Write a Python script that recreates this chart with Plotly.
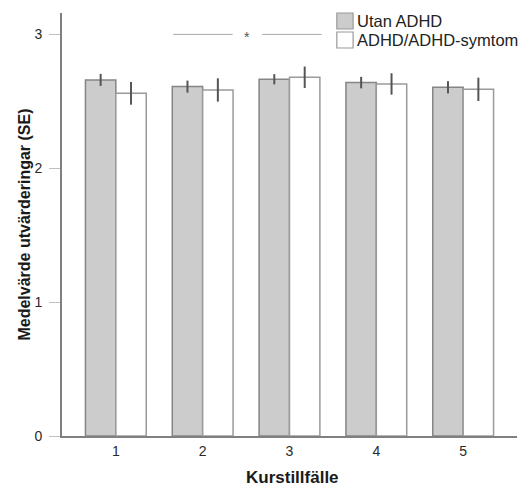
import plotly.graph_objects as go

categories = [1, 2, 3, 4, 5]
tick_labels = ["1", "2", "3", "4", "5"]
series_names = ["Utan ADHD", "ADHD/ADHD-symtom"]
x_title = "Kurstillfälle"
y_title = "Medelvärde utvärderingar (SE)"
utan_mean = [2.66, 2.61, 2.665, 2.64, 2.605]
utan_se = [0.045, 0.045, 0.038, 0.043, 0.046]
adhd_mean = [2.56, 2.585, 2.68, 2.63, 2.59]
adhd_se = [0.085, 0.087, 0.08, 0.08, 0.087]
sig_span = [1.66, 3.37]
sig_level = 3.0

font = "Liberation Sans, Arial, sans-serif"
fill_cols = ["#cccccc", "#ffffff"]
line_cols = ["#858585", "#9a9a9a"]

fig = go.Figure()
for nm, m, se, fc, lc in [(series_names[0], utan_mean, utan_se, fill_cols[0], line_cols[0]),
                          (series_names[1], adhd_mean, adhd_se, fill_cols[1], line_cols[1])]:
    fig.add_trace(go.Bar(
        x=categories, y=m, name=nm, showlegend=False,
        marker=dict(color=fc, line=dict(color=lc, width=1.5)),
        error_y=dict(type="data", array=se, color="#555555", thickness=2, width=0),
    ))

# significance bracket
mid = (sig_span[0] + sig_span[1]) / 2
gap = 0.17
fig.add_shape(type="line", x0=sig_span[0], x1=mid - gap, y0=sig_level, y1=sig_level,
              line=dict(color="#aaaaaa", width=1))
fig.add_shape(type="line", x0=mid + gap, x1=sig_span[1], y0=sig_level, y1=sig_level,
              line=dict(color="#aaaaaa", width=1))
fig.add_annotation(x=mid, y=sig_level, text="*", showarrow=False, yshift=-3,
                   font=dict(family=font, size=14, color="#555555"))

# manual legend (page pixels; plot area spans x 62..509, y 13..436 on the page)
def px_x(p):
    return (p - 62) / 447

def px_y(p):
    return (436 - p) / 423

leg_rows = [(13, 29, 21), (32, 48, 40)]
for i, (top, bot, cy) in enumerate(leg_rows):
    fig.add_shape(type="rect", xref="paper", yref="paper",
                  x0=px_x(332), x1=px_x(348), y0=px_y(bot), y1=px_y(top),
                  fillcolor=fill_cols[i], line=dict(color="#999999", width=1.2))
    fig.add_annotation(xref="paper", yref="paper", x=px_x(350), y=px_y(cy),
                       xanchor="left", yanchor="middle", showarrow=False,
                       text=series_names[i],
                       font=dict(family=font, size=16.5, color="#222222"))

# x axis title as annotation (so it sits near the reference position)
fig.add_annotation(xref="paper", yref="paper", x=px_x(288), y=px_y(478),
                   xanchor="center", yanchor="middle", showarrow=False,
                   text="<b>" + x_title + "</b>",
                   font=dict(family=font, size=17, color="#1a1a1a"))

# the page body adds an 8px margin, so the figure is sized/offset to compensate
fig.update_layout(
    width=521, height=481,
    margin=dict(l=54, r=12, t=5, b=53),
    paper_bgcolor="white", plot_bgcolor="white",
    barmode="group", bargap=0.3, bargroupgap=0,
    font=dict(family=font, color="#333333"),
    showlegend=False,
    xaxis=dict(range=[0.38, 5.62], tickvals=categories, ticktext=tick_labels,
               showline=True, linecolor="#808080", linewidth=2, ticks="",
               showgrid=False, zeroline=False, automargin=False,
               ticklabelstandoff=1,
               tickfont=dict(size=14, color="#2a2a2a")),
    yaxis=dict(range=[0, 3.16], tickvals=[0, 1, 2, 3],
               showline=True, linecolor="#808080", linewidth=2, ticks="outside",
               ticklen=11, tickcolor="#c0c0c0", tickwidth=1,
               showgrid=False, zeroline=False, automargin=False,
               ticklabelstandoff=4,
               tickfont=dict(size=14, color="#2a2a2a"),
               title=dict(text="<b>" + y_title + "</b>", font=dict(size=16, color="#1a1a1a"), standoff=0)),
)
fig.write_html("out.html")
